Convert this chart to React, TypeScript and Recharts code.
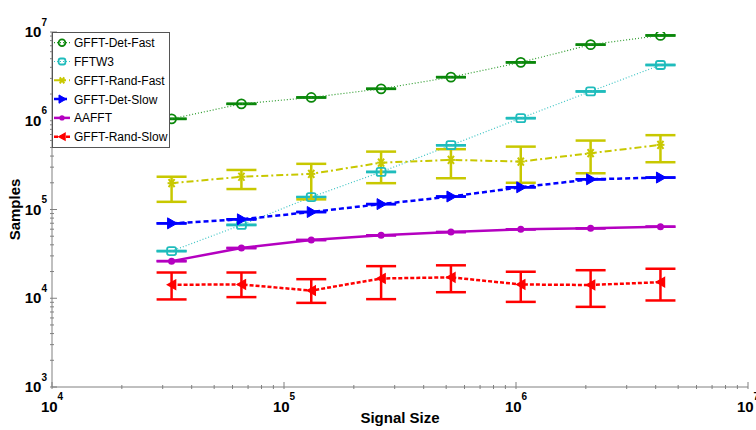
import React from 'react';
import { LineChart, Line, XAxis, YAxis, ErrorBar, Legend } from 'recharts';

// signal sizes 2^15 .. 2^22
const signalSizes = [32768, 65536, 131072, 262144, 524288, 1048576, 2097152, 4194304];

const detFast = [1.05e6, 1.55e6, 1.83e6, 2.29e6, 3.1e6, 4.55e6, 7.2e6, 9.15e6];
const fftw3 = [3.4e4, 6.7e4, 1.38e5, 2.65e5, 5.3e5, 1.07e6, 2.14e6, 4.25e6];
const randFast = [1.98e5, 2.34e5, 2.52e5, 3.37e5, 3.62e5, 3.47e5, 4.31e5, 5.35e5];
const randFastLow = [1.22e5, 1.7e5, 1.3e5, 1.98e5, 2.25e5, 2.0e5, 2.56e5, 3.41e5];
const randFastHigh = [2.34e5, 2.79e5, 3.27e5, 4.49e5, 4.78e5, 5.11e5, 5.98e5, 6.88e5];
const detSlow = [6.98e4, 7.75e4, 9.37e4, 1.15e5, 1.4e5, 1.78e5, 2.19e5, 2.29e5];
const aafft = [2.62e4, 3.68e4, 4.53e4, 5.12e4, 5.57e4, 5.98e4, 6.14e4, 6.4e4];
const randSlow = [1.42e4, 1.43e4, 1.22e4, 1.67e4, 1.72e4, 1.43e4, 1.41e4, 1.52e4];
const randSlowLow = [9.7e3, 1.03e4, 8.87e3, 9.77e3, 1.17e4, 9.1e3, 8.0e3, 9.44e3];
const randSlowHigh = [1.95e4, 1.95e4, 1.64e4, 2.3e4, 2.35e4, 1.99e4, 2.07e4, 2.15e4];

const xDecades = [1e4, 1e5, 1e6, 1e7];
const yDecades = [1e3, 1e4, 1e5, 1e6, 1e7];
const minorSteps = [2, 3, 4, 5, 6, 7, 8, 9];

const withMinors = (decades: number[]) => {
  const out: number[] = [];
  decades.forEach((d, i) => {
    out.push(d);
    if (i < decades.length - 1) minorSteps.forEach((m) => out.push(d * m));
  });
  return out;
};
const xTicks = withMinors(xDecades);
const yTicks = withMinors(yDecades);

const rows = signalSizes.map((n, i) => ({
  n,
  detFast: detFast[i],
  fftw3: fftw3[i],
  randFast: randFast[i],
  randFastErr: [randFast[i] - randFastLow[i], randFastHigh[i] - randFast[i]],
  detSlow: detSlow[i],
  aafft: aafft[i],
  randSlow: randSlow[i],
  randSlowErr: [randSlow[i] - randSlowLow[i], randSlowHigh[i] - randSlow[i]],
  zeroErr: [0, 0],
}));

const FONT = '"Liberation Sans", Arial, sans-serif';
const AXIS = '#808080';

const series = [
  { key: 'detFast', name: 'GFFT-Det-Fast', color: '#0a870a', lineColor: '#2a9a2a', width: 1.2, dash: '1 2', marker: 'circle', err: 'zeroErr' },
  { key: 'fftw3', name: 'FFTW3', color: '#1fbcbc', lineColor: '#3cc4c4', width: 1.2, dash: '1 2', marker: 'square', err: 'zeroErr' },
  { key: 'randFast', name: 'GFFT-Rand-Fast', color: '#c8c800', lineColor: '#c8c800', width: 2, dash: '7 3 2 3', marker: 'star', err: 'randFastErr' },
  { key: 'detSlow', name: 'GFFT-Det-Slow', color: '#0000ff', lineColor: '#0000ff', width: 2.5, dash: '5 3', marker: 'triangle', err: 'zeroErr' },
  { key: 'aafft', name: 'AAFFT', color: '#b400c0', lineColor: '#b400c0', width: 2.5, dash: undefined, marker: 'dot', err: 'zeroErr' },
  { key: 'randSlow', name: 'GFFT-Rand-Slow', color: '#ff0000', lineColor: '#ff0000', width: 2.5, dash: '4 2', marker: 'left', err: 'randSlowErr' },
];

const Marker = ({ kind, cx, cy, color, s = 1 }: any) => {
  if (cx == null || cy == null) return null;
  switch (kind) {
    case 'circle':
      return <circle cx={cx} cy={cy} r={4.5 * s} fill="none" stroke={color} strokeWidth={1.8} />;
    case 'square':
      return <rect x={cx - 4.5 * s} y={cy - 4 * s} width={9 * s} height={8 * s} rx={2} fill="none" stroke={color} strokeWidth={1.8} />;
    case 'star':
      return (
        <g stroke={color} strokeWidth={2}>
          <line x1={cx - 4 * s} y1={cy} x2={cx + 4 * s} y2={cy} />
          <line x1={cx - 3 * s} y1={cy - 4 * s} x2={cx + 3 * s} y2={cy + 4 * s} />
          <line x1={cx - 3 * s} y1={cy + 4 * s} x2={cx + 3 * s} y2={cy - 4 * s} />
        </g>
      );
    case 'triangle':
      return <polygon points={`${cx - 4 * s},${cy - 5.5 * s} ${cx + 5.5 * s},${cy} ${cx - 4 * s},${cy + 5.5 * s}`} fill={color} stroke={color} strokeWidth={1} />;
    case 'dot':
      return <circle cx={cx} cy={cy} r={3.5 * s} fill={color} />;
    case 'left':
      return <polygon points={`${cx + 4 * s},${cy - 4.5 * s} ${cx - 4 * s},${cy} ${cx + 4 * s},${cy + 4.5 * s}`} fill={color} stroke={color} strokeWidth={1.5} />;
    default:
      return null;
  }
};

const decadeExp = (v: number) => {
  const e = Math.round(Math.log10(v));
  return Math.abs(v - Math.pow(10, e)) < v * 1e-9 ? e : null;
};

const BottomTick = ({ x, y, payload }: any) => {
  const e = decadeExp(payload.value);
  return (
    <g>
      <line x1={x} x2={x} y1={y} y2={y - (e !== null ? 7 : 4)} stroke={AXIS} />
      {e !== null && (
        <text x={x} y={y + 23} textAnchor="middle" fontFamily={FONT} fontWeight="bold" fontSize={15} fill="#000">
          <tspan>10</tspan>
          <tspan dy={-12} fontSize={10}>{e}</tspan>
        </text>
      )}
    </g>
  );
};

const TopTick = ({ x, y, payload }: any) => {
  const e = decadeExp(payload.value);
  return <line x1={x} x2={x} y1={y} y2={y + (e !== null ? 7 : 4)} stroke={AXIS} />;
};

const LeftTick = ({ x, y, payload }: any) => {
  const e = decadeExp(payload.value);
  return (
    <g>
      <line x1={x} x2={x + (e !== null ? 7 : 4)} y1={y} y2={y} stroke={AXIS} />
      {e !== null && (
        <text x={x - 3} y={y + 5} textAnchor="end" fontFamily={FONT} fontWeight="bold" fontSize={15} fill="#000">
          <tspan>10</tspan>
          <tspan dy={-11.5} fontSize={10}>{e}</tspan>
        </text>
      )}
    </g>
  );
};

const RightTick = ({ x, y, payload }: any) => {
  const e = decadeExp(payload.value);
  return <line x1={x} x2={x - (e !== null ? 7 : 4)} y1={y} y2={y} stroke={AXIS} />;
};

const LegendBox = () => (
  <svg width={118} height={116} style={{ display: 'block' }}>
    <rect x={0.5} y={0.5} width={117} height={115} fill="#fff" stroke="#555" strokeWidth={1} />
    {series.map((s, i) => {
      const cy = 10.7 + i * 18.8;
      return (
        <g key={s.key}>
          <line x1={2} x2={18} y1={cy} y2={cy} stroke={s.lineColor} strokeWidth={s.width} strokeDasharray={s.dash} />
          <Marker kind={s.marker} cx={10} cy={cy} color={s.color} s={0.75} />
          <text x={22} y={cy + 4.5} fontFamily={FONT} fontSize={12} fill="#000">
            {s.name}
          </text>
        </g>
      );
    })}
  </svg>
);

export default function App() {
  return (
    <div style={{ position: 'absolute', left: 0, top: 0, width: 756, height: 430, background: '#fff' }}>
      <LineChart width={756} height={430} data={rows} margin={{ top: 32, right: 8, bottom: 0, left: 0 }}>
        <XAxis
          dataKey="n"
          type="number"
          scale="log"
          domain={[1e4, 1e7]}
          ticks={xTicks}
          interval={0}
          allowDataOverflow
          height={43}
          tickSize={0}
          tickLine={false}
          axisLine={{ stroke: AXIS }}
          tick={<BottomTick />}
          label={() => (
            <text x={400} y={423} textAnchor="middle" fontFamily={FONT} fontWeight="bold" fontSize={15} fill="#000">
              Signal Size
            </text>
          )}
        />
        <XAxis
          xAxisId="top"
          orientation="top"
          dataKey="n"
          type="number"
          scale="log"
          domain={[1e4, 1e7]}
          ticks={xTicks}
          interval={0}
          allowDataOverflow
          height={0}
          tickSize={0}
          tickLine={false}
          axisLine={{ stroke: AXIS }}
          tick={<TopTick />}
          label={() => (
            <text x={400} y={18.5} textAnchor="middle" fontFamily={FONT} fontWeight="bold" fontSize={15} fill="#000">
              Samples Required for Sparsity Fixed at 60
            </text>
          )}
        />
        <YAxis
          type="number"
          scale="log"
          domain={[1e3, 1e7]}
          ticks={yTicks}
          interval={0}
          allowDataOverflow
          width={52}
          tickSize={0}
          tickLine={false}
          axisLine={{ stroke: AXIS }}
          tick={<LeftTick />}
          label={() => (
            <text x={20} y={209.5} transform="rotate(-90 20 209.5)" textAnchor="middle" fontFamily={FONT} fontWeight="bold" fontSize={15} fill="#000">
              Samples
            </text>
          )}
        />
        <YAxis
          yAxisId="right"
          orientation="right"
          type="number"
          scale="log"
          domain={[1e3, 1e7]}
          ticks={yTicks}
          interval={0}
          allowDataOverflow
          width={0}
          tickSize={0}
          tickLine={false}
          axisLine={{ stroke: AXIS }}
          tick={<RightTick />}
        />
        <Legend
          layout="vertical"
          align="center"
          verticalAlign="middle"
          wrapperStyle={{ left: 52, top: 32, width: 118, height: 116 }}
          content={() => <LegendBox />}
        />
        {series.map((s) => (
          <Line
            key={s.key}
            dataKey={s.key}
            name={s.name}
            stroke={s.lineColor}
            strokeWidth={s.width}
            strokeDasharray={s.dash}
            isAnimationActive={false}
            activeDot={false}
            dot={(p: any) => <Marker key={`${s.key}-${p.index}`} kind={s.marker} cx={p.cx} cy={p.cy} color={s.color} />}
          >
            <ErrorBar dataKey={s.err} direction="y" width={15} stroke={s.color} strokeWidth={2.5} isAnimationActive={false} />
          </Line>
        ))}
      </LineChart>
    </div>
  );
}
